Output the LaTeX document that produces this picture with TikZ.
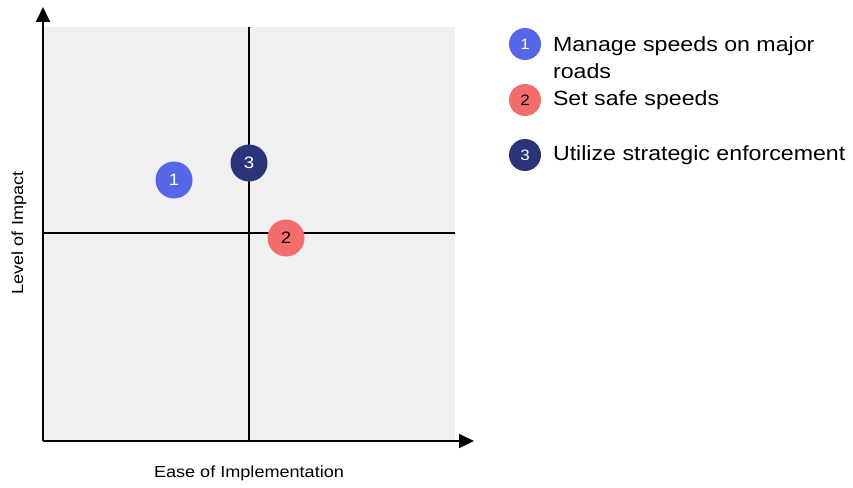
\documentclass[tikz,border=0pt]{standalone}
\usepackage{fontspec}
\setmainfont[FakeStretch=1.13]{Liberation Sans}
\usetikzlibrary{arrows.meta}
\definecolor{mapbg}{HTML}{F0F0F0}
\definecolor{dotblue}{HTML}{5566E6}
\definecolor{dotred}{HTML}{F26D6B}
\definecolor{dotnavy}{HTML}{2B3478}
\tikzset{
  axis/.style={line width=2pt, -{Triangle[length=15pt,width=14pt]}},
  split/.style={line width=1.3pt},
  dot/.style={circle, minimum size=37pt, inner sep=0pt, font=\fontsize{16.5}{16.5}\selectfont},
  keydot/.style={circle, minimum size=32pt, inner sep=0pt, font=\fontsize{15}{15}\selectfont},
  keytext/.style={anchor=west, align=left, font=\fontsize{20.5}{27}\selectfont}
}
\begin{document}
\begin{tikzpicture}[x=1pt, y=-1pt]
    \useasboundingbox (0,0) rectangle (853,487);
    \fill[mapbg] (43,27) rectangle (455,441);
    \coordinate (o) at (43,441);
    \coordinate (ytop) at (43,7);
    \coordinate (xend) at (474,441);
    \draw[split] (249,27) -- (249,441);
    \draw[split] (43,233) -- (455,233);
    \draw[axis] (o) -- (ytop);
    \draw[axis] (o) -- (xend);
    \node (ylab) at (19,233) [rotate=90, font=\fontsize{16}{16}\selectfont] {Level of Impact};
    \node (xlab) at (249,473) [font=\fontsize{16}{16}\selectfont] {Ease of Implementation};
    % points
    \node[dot, fill=dotblue, text=white] (p1) at (174,180) {1};
    \node[dot, fill=dotred, text=black] (p2) at (286,238) {2};
    \node[dot, fill=dotnavy, text=white] (p3) at (249,163) {3};
    % legend
    \node[keydot, fill=dotblue, text=white] (k1) at (525,44) {1};
    \node[keydot, fill=dotred, text=black] (k2) at (525,100) {2};
    \node[keydot, fill=dotnavy, text=white] (k3) at (525,155) {3};
    \node[keytext] (t1) at (549.5,57.5) {Manage speeds on major\\roads};
    \node[keytext] (t2) at (549.5,100) {Set safe speeds};
    \node[keytext] (t3) at (549.5,155) {Utilize strategic enforcement};
\end{tikzpicture}
\end{document}
